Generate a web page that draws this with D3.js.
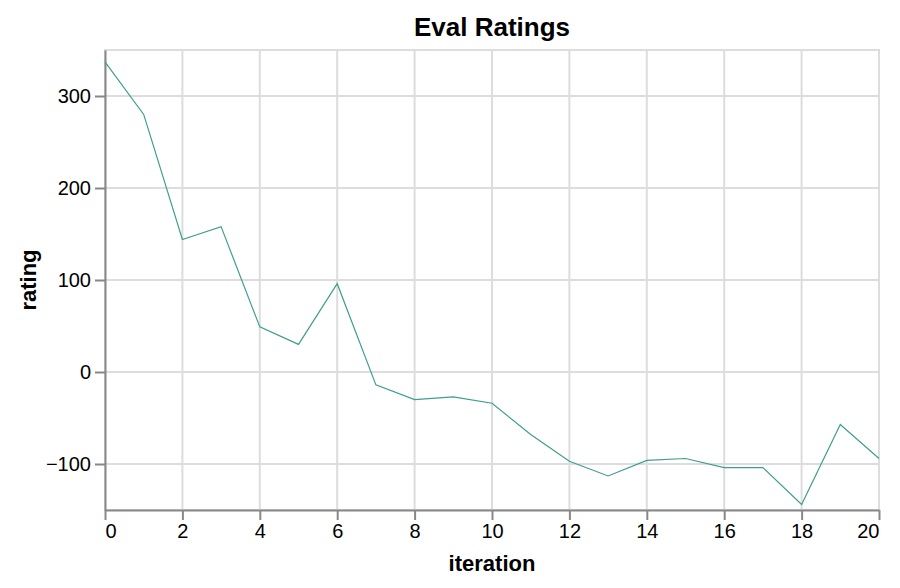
<!DOCTYPE html>
<html>
<head>
<meta charset="utf-8">
<script src="https://cdn.jsdelivr.net/npm/d3@7"></script>
<style>
  html, body { margin: 0; padding: 0; background: #fff; }
  svg { display: block; font-family: "Liberation Sans", Arial, Helvetica, sans-serif; }
</style>
</head>
<body>
<svg id="chart" width="900" height="588"></svg>
<script>
const iterations = [0,1,2,3,4,5,6,7,8,9,10,11,12,13,14,15,16,17,18,19,20];
const ratings = [337,280,144,158,49,30,96,-14,-30,-27,-34,-68,-97,-113,-96,-94,-104,-104,-144,-57,-94];
const xTicks = [0,2,4,6,8,10,12,14,16,18,20];
const yTicks = [-100,0,100,200,300];
const chartTitle = "Eval Ratings";
const xTitle = "iteration";
const yTitle = "rating";

const svg = d3.select("#chart");
const mLeft = 105, mRight = 879, mTop = 50, mBottom = 510;

const x = d3.scaleLinear().domain([0, 20]).range([mLeft, mRight]);
const y = d3.scaleLinear().domain([-150, 350]).range([mBottom, mTop]);

// view border
svg.append("rect")
  .attr("x", mLeft).attr("y", mTop)
  .attr("width", mRight - mLeft).attr("height", mBottom - mTop)
  .attr("fill", "none").attr("stroke", "#ddd").attr("stroke-width", 2);

// grid
svg.append("g").selectAll("line").data(xTicks).join("line")
  .attr("x1", d => x(d)).attr("x2", d => x(d))
  .attr("y1", mTop).attr("y2", mBottom)
  .attr("stroke", "#ddd").attr("stroke-width", 2);
svg.append("g").selectAll("line").data(yTicks).join("line")
  .attr("x1", mLeft).attr("x2", mRight)
  .attr("y1", d => y(d)).attr("y2", d => y(d))
  .attr("stroke", "#ddd").attr("stroke-width", 2);

// x axis
const xAxis = svg.append("g").attr("transform", `translate(0,${mBottom})`)
  .call(d3.axisBottom(x).tickValues(xTicks).tickSize(10).tickPadding(4).tickSizeOuter(0));
xAxis.select(".domain").attr("stroke", "#888").attr("stroke-width", 2);
xAxis.selectAll(".tick line").attr("stroke", "#888").attr("stroke-width", 2);
xAxis.selectAll(".tick text")
  .attr("font-size", 20).attr("fill", "#000")
  .attr("font-family", "Liberation Sans, Arial, sans-serif")
  .attr("text-anchor", (d, i) => i === 0 ? "start" : (i === xTicks.length - 1 ? "end" : "middle"));

// y axis
const yAxis = svg.append("g").attr("transform", `translate(${mLeft},0)`)
  .call(d3.axisLeft(y).tickValues(yTicks).tickSize(10).tickPadding(4).tickSizeOuter(0));
yAxis.select(".domain").attr("stroke", "#888").attr("stroke-width", 2);
yAxis.selectAll(".tick line").attr("stroke", "#888").attr("stroke-width", 2);
yAxis.selectAll(".tick text")
  .attr("font-size", 20).attr("fill", "#000")
  .attr("font-family", "Liberation Sans, Arial, sans-serif");

// line
const line = d3.line().x((d, i) => x(iterations[i])).y(d => y(d));
svg.append("path").datum(ratings)
  .attr("d", line)
  .attr("fill", "none")
  .attr("stroke", "#3f9e8e")
  .attr("stroke-width", 1.2);

// titles
svg.append("text")
  .attr("x", (mLeft + mRight) / 2).attr("y", 36)
  .attr("text-anchor", "middle")
  .attr("font-size", 26).attr("font-weight", "bold").attr("fill", "#000")
  .text(chartTitle);

svg.append("text")
  .attr("x", (mLeft + mRight) / 2).attr("y", 571)
  .attr("text-anchor", "middle")
  .attr("font-size", 22).attr("font-weight", "bold").attr("fill", "#000")
  .text(xTitle);

svg.append("text")
  .attr("transform", `translate(36,${(mTop + mBottom) / 2}) rotate(-90)`)
  .attr("text-anchor", "middle")
  .attr("font-size", 22).attr("font-weight", "bold").attr("fill", "#000")
  .text(yTitle);
</script>
</body>
</html>
